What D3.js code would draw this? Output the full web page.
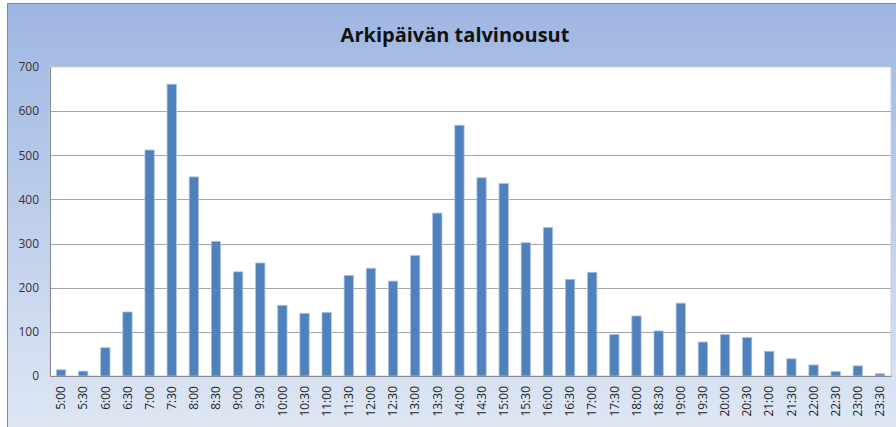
<!DOCTYPE html>
<html><head><meta charset="utf-8">
<script src="https://cdn.jsdelivr.net/npm/d3@7"></script>
<style>html,body{margin:0;padding:0;background:#fff;}svg{display:block;}</style>
</head><body>
<script>
const title = "Arkipäivän talvinousut";
const categories = ["5:00","5:30","6:00","6:30","7:00","7:30","8:00","8:30","9:00","9:30","10:00","10:30","11:00","11:30","12:00","12:30","13:00","13:30","14:00","14:30","15:00","15:30","16:00","16:30","17:00","17:30","18:00","18:30","19:00","19:30","20:00","20:30","21:00","21:30","22:00","22:30","23:00","23:30"];
const values = [14,11,64,145,512,661,451,305,236,256,160,142,144,228,244,215,273,369,568,449,436,302,336,219,235,94,136,102,165,77,94,87,56,39,25,10,23,5];
const yTicks = [0,100,200,300,400,500,600,700];

const W = 896, H = 427;
const plot = {left: 50, right: 891, top: 67, bottom: 376};

const svg = d3.select("body").append("svg").attr("width", W).attr("height", H);
const defs = svg.append("defs");
const g = defs.append("linearGradient").attr("id","bg").attr("x1",0).attr("y1",0).attr("x2",0).attr("y2",1);
g.append("stop").attr("offset","0%").attr("stop-color","#9db6e2");
g.append("stop").attr("offset","100%").attr("stop-color","#dfe7f4");

svg.append("rect").attr("x",7.5).attr("y",3.5).attr("width",W).attr("height",H)
  .attr("fill","url(#bg)").attr("stroke","#8a8a8a").attr("stroke-width",1);

svg.append("text").attr("x",455).attr("y",42).attr("text-anchor","middle")
  .attr("font-family","'Open Sans', sans-serif").attr("font-weight","bold")
  .attr("font-size",20).attr("fill","#111").text(title);

const x = d3.scaleBand().domain(categories).range([plot.left, plot.right]).paddingInner(0.58).paddingOuter(0.29);
const y = d3.scaleLinear().domain([0,700]).range([plot.bottom, plot.top]);

svg.append("rect").attr("x",plot.left).attr("y",plot.top).attr("width",plot.right-plot.left).attr("height",plot.bottom-plot.top)
  .attr("fill","#fff").attr("stroke","#c8d0dc").attr("stroke-width",1);

// gridlines
svg.append("g").selectAll("line").data(yTicks.filter(d=>d>0 && d<700)).join("line")
  .attr("x1",plot.left).attr("x2",plot.right)
  .attr("y1",d=>Math.round(y(d))+0.5).attr("y2",d=>Math.round(y(d))+0.5)
  .attr("stroke","#a6a6a6").attr("stroke-width",1);

// bars
svg.append("g").selectAll("rect").data(values).join("rect")
  .attr("x",(d,i)=>x(categories[i]))
  .attr("y",d=>y(d))
  .attr("width",x.bandwidth())
  .attr("height",d=>y(0)-y(d))
  .attr("fill","#4f81bd").attr("stroke","#a9c1e2").attr("stroke-width",0.8);

// y axis
const yAxis = d3.axisLeft(y).tickValues(yTicks).tickSize(0).tickPadding(11);
const ya = svg.append("g").attr("transform",`translate(${plot.left},0)`).call(yAxis);
ya.select(".domain").attr("stroke","#8a8a8a");
ya.selectAll("text").attr("font-family","'Open Sans', sans-serif").attr("font-size",12).attr("fill","#333");

// x axis
const xAxis = d3.axisBottom(x).tickSize(0).tickPadding(0);
const xa = svg.append("g").attr("transform",`translate(0,${plot.bottom})`).call(xAxis);
xa.select(".domain").attr("stroke","#8a8a8a");
xa.selectAll("text")
  .attr("font-family","'Open Sans', sans-serif").attr("font-size",12).attr("fill","#222")
  .attr("transform","rotate(-90)")
  .attr("text-anchor","end").attr("x",-10).attr("y",0).attr("dy","0.35em");
</script>
</body></html>
